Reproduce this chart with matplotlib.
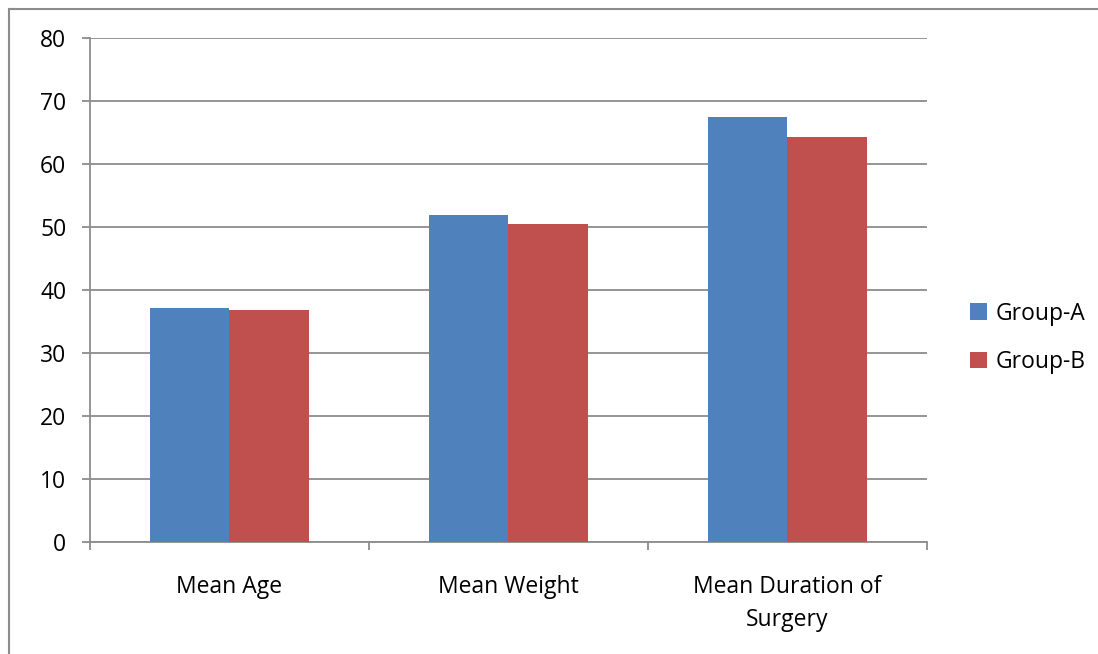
import numpy as np
import matplotlib.pyplot as plt
from matplotlib.lines import Line2D

categories = ["Mean Age", "Mean Weight", "Mean Duration of\nSurgery"]
group_a = [37.1, 51.9, 67.4]
group_b = [36.8, 50.4, 64.3]
series_names = ["Group-A", "Group-B"]
colors = ["#4f81bd", "#c0504d"]

plt.rcParams['font.family'] = ['Open Sans', 'DejaVu Sans']

fig = plt.figure(figsize=(10.98, 6.54), dpi=100)
ax = fig.add_axes([90 / 1098, 1 - 542 / 654, 837 / 1098, 504 / 654])

x = np.arange(len(categories))
w = 1 / 3.5
ax.bar(x - w / 2, group_a, w, color=colors[0], label=series_names[0], zorder=3)
ax.bar(x + w / 2, group_b, w, color=colors[1], label=series_names[1], zorder=3)

ax.set_xlim(-0.5, 2.5)
ax.set_ylim(0, 80)
ax.set_yticks(np.arange(0, 81, 10))
ax.yaxis.grid(True, color="#8c8c8c", linewidth=1.3, zorder=0)
ax.tick_params(axis="y", length=6, width=1.3, color="#8c8c8c", labelsize=16.5, pad=11)

# category boundary ticks on the x axis
ax.set_xticks([-0.5, 0.5, 1.5, 2.5])
ax.set_xticklabels([])
ax.tick_params(axis="x", length=6, width=1.3, color="#8c8c8c")
for i, c in enumerate(categories):
    ax.text(i, -5.2, c, ha="center", va="top", fontsize=16.5, linespacing=1.5)

for s in ["top", "right"]:
    ax.spines[s].set_visible(False)
for s in ["left", "bottom"]:
    ax.spines[s].set_color("#8c8c8c")
    ax.spines[s].set_linewidth(1.3)

ax.legend(loc="center left", bbox_to_anchor=(1.027, 0.405), frameon=False,
          fontsize=16.5, handlelength=0.75, handleheight=0.75, handletextpad=0.35,
          labelspacing=1.05)

# outer chart frame (left and top edges visible)
fig.add_artist(Line2D([9 / 1098, 9 / 1098], [0, 1 - 9 / 654], color="#8c8c8c", lw=1.5,
                      transform=fig.transFigure))
fig.add_artist(Line2D([9 / 1098, 1], [1 - 9 / 654, 1 - 9 / 654], color="#8c8c8c", lw=1.5,
                      transform=fig.transFigure))

plt.savefig("out.png", dpi=100)
